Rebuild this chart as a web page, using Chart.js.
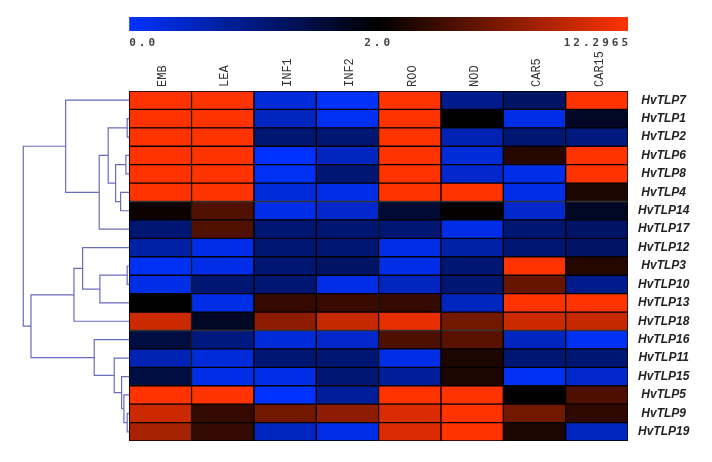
<!DOCTYPE html>
<html><head><meta charset="utf-8">
<script src="https://cdn.jsdelivr.net/npm/chart.js@4.4.1/dist/chart.umd.min.js"></script>
<style>html,body{margin:0;padding:0;background:#fff}</style>
</head><body>
<canvas id="c" width="712" height="462"></canvas>
<script>
const genes = ['HvTLP7','HvTLP1','HvTLP2','HvTLP6','HvTLP8','HvTLP4','HvTLP14','HvTLP17','HvTLP12','HvTLP3','HvTLP10','HvTLP13','HvTLP18','HvTLP16','HvTLP11','HvTLP15','HvTLP5','HvTLP9','HvTLP19'];
const tissues = ['EMB','LEA','INF1','INF2','ROO','NOD','CAR5','CAR15'];
const scaleTicks = [0.0, 2.0, 12.2965];
const scaleTickLabels = ['0.0','2.0','12.2965'];

const emb   = [12.29,12.29,12.29,12.29,12.29,12.29,2.5,1.1,0.7,0.1,0.2,2.0,10.2,1.5,0.6,1.5,12.29,10.2,8.7];
const lea   = [12.29,12.29,12.29,12.29,12.29,12.29,5.2,5.2,0.2,0.2,1.1,0.2,1.7,1.0,0.3,0.2,12.29,4.1,4.1];
const inf1  = [0.3,0.5,1.1,0.0,0.1,0.3,0.2,1.1,1.1,1.1,1.1,4.1,7.7,0.3,1.1,0.2,0.0,6.6,0.5];
const inf2  = [0.05,0.1,1.1,0.5,1.1,0.2,0.4,1.1,1.1,1.2,0.2,4.3,10.0,0.4,1.1,1.1,0.8,7.7,0.2];
const roo   = [12.29,12.29,12.29,12.29,12.29,12.29,1.6,1.1,0.2,0.2,0.5,4.1,11.3,5.1,0.2,0.8,12.29,10.8,10.8];
const nod   = [0.9,2.0,0.6,0.3,0.4,12.29,2.2,0.2,0.7,1.1,1.1,0.5,6.6,5.6,3.2,3.2,12.29,12.29,12.29];
const car5  = [1.2,0.2,1.1,3.5,0.2,0.2,0.4,1.1,1.1,12.29,6.1,12.29,10.2,0.5,1.1,0.1,2.0,6.6,3.2];
const car15 = [12.29,1.7,1.0,12.29,12.29,3.2,1.7,1.2,1.2,3.5,0.9,12.29,10.0,0.1,1.1,0.4,5.1,3.9,0.5];
const columns = [emb, lea, inf1, inf2, roo, nod, car5, car15];

// dendrogram merges: [child A, child B, height]; 'mN' refers to merge N
const dendroMerges = [
  ['HvTLP1','HvTLP2',0.032],
  ['HvTLP6','HvTLP8',0.053],
  ['HvTLP4','HvTLP14',0.138],
  ['m1','m2',0.218],
  ['m0','m3',0.337],
  ['m4','HvTLP17',0.481],
  ['HvTLP7','m5',1.019],
  ['HvTLP3','HvTLP10',0.032],
  ['m7','HvTLP13',0.470],
  ['HvTLP12','m8',0.747],
  ['m9','HvTLP18',0.886],
  ['HvTLP9','HvTLP19',0.032],
  ['HvTLP5','m11',0.085],
  ['HvTLP15','m12',0.122],
  ['HvTLP11','m13',0.240],
  ['HvTLP16','m14',0.561],
  ['m10','m15',1.575],
  ['m6','m16',1.699]
];

const BLUE = [0, 50, 255], RED = [255, 51, 0];
function colorFor(v) {
  const mid = scaleTicks[1], max = scaleTicks[2];
  if (v <= mid) {
    const t = Math.max(0, Math.min(1, 1 - v / mid));
    return `rgb(${Math.round(BLUE[0]*t)},${Math.round(BLUE[1]*t)},${Math.round(BLUE[2]*t)})`;
  }
  const t = Math.max(0, Math.min(1, (v - mid) / (max - mid)));
  return `rgb(${Math.round(RED[0]*t)},${Math.round(RED[1]*t)},${Math.round(RED[2]*t)})`;
}

const datasets = tissues.map((t, j) => ({
  label: t,
  data: columns[j].map(() => [j, j + 1]),
  backgroundColor: columns[j].map(colorFor),
  borderColor: '#000',
  borderWidth: 1,
  borderSkipped: false,
  barPercentage: 1,
  categoryPercentage: 1,
  grouped: false
}));

const decor = {
  id: 'decor',
  afterDraw(chart) {
    const ctx = chart.ctx;
    const xs = chart.scales.x, ys = chart.scales.y;
    // colour bar
    const x0 = xs.getPixelForValue(0), x1 = xs.getPixelForValue(tissues.length);
    const g = ctx.createLinearGradient(x0, 0, x1, 0);
    g.addColorStop(0, colorFor(scaleTicks[0]));
    g.addColorStop(0.5, colorFor(scaleTicks[1]));
    g.addColorStop(1, colorFor(scaleTicks[2]));
    ctx.save();
    ctx.fillStyle = g;
    ctx.fillRect(x0, 17, x1 - x0, 14);
    ctx.font = 'bold 11px "DejaVu Sans Mono"';
    ctx.fillStyle = '#444';
    ctx.textBaseline = 'middle';
    try { ctx.letterSpacing = '3px'; } catch (e) {}
    scaleTicks.forEach((v, i) => {
      const f = v <= scaleTicks[1] ? 0.5 * v / scaleTicks[1]
        : 0.5 + 0.5 * (v - scaleTicks[1]) / (scaleTicks[2] - scaleTicks[1]);
      const px = x0 + f * (x1 - x0);
      ctx.textAlign = i === 0 ? 'left' : (i === scaleTicks.length - 1 ? 'right' : 'center');
      ctx.fillText(scaleTickLabels[i], px + (ctx.textAlign === 'right' ? 3 : 0), 43);
    });
    ctx.restore();

    // dendrogram
    const nodes = {};
    genes.forEach((gname, i) => { nodes[gname] = { y: ys.getPixelForValue(i), h: 0 }; });
    ctx.save();
    ctx.strokeStyle = '#6b6bbd';
    ctx.lineWidth = 1.2;
    dendroMerges.forEach((m, k) => {
      const a = nodes[m[0]], b = nodes[m[1]], h = m[2];
      const xh = xs.getPixelForValue(-h);
      ctx.beginPath();
      ctx.moveTo(xs.getPixelForValue(-a.h), a.y);
      ctx.lineTo(xh, a.y);
      ctx.lineTo(xh, b.y);
      ctx.lineTo(xs.getPixelForValue(-b.h), b.y);
      ctx.stroke();
      nodes['m' + k] = { y: (a.y + b.y) / 2, h: h };
    });
    ctx.restore();
  }
};

new Chart(document.getElementById('c'), {
  type: 'bar',
  data: { labels: genes, datasets },
  options: {
    indexAxis: 'y',
    responsive: false,
    animation: false,
    layout: { padding: { top: 0, left: 0, right: 10, bottom: 21 } },
    plugins: { legend: { display: false }, tooltip: { enabled: false } },
    scales: {
      x: {
        type: 'linear',
        position: 'top',
        min: -2.072,
        max: tissues.length,
        grid: { display: false, drawTicks: false },
        border: { display: false },
        afterBuildTicks: (s) => { s.ticks = tissues.map((t, i) => ({ value: i + 0.5 })); },
        afterFit: (s) => { s.height = 91; },
        ticks: {
          autoSkip: false,
          minRotation: 90,
          maxRotation: 90,
          padding: 4,
          labelOffset: 17,
          color: '#333',
          font: { family: 'Liberation Mono', size: 12 },
          callback: (v, i) => tissues[i]
        }
      },
      y: {
        position: 'right',
        grid: { display: false, drawTicks: false },
        border: { display: false },
        afterFit: (s) => { s.width = 74; },
        ticks: {
          crossAlign: 'center',
          padding: 10,
          color: '#222',
          font: { family: 'Liberation Sans', size: 12, weight: 'bold', style: 'italic' }
        }
      }
    }
  },
  plugins: [decor]
});
</script>
</body></html>
